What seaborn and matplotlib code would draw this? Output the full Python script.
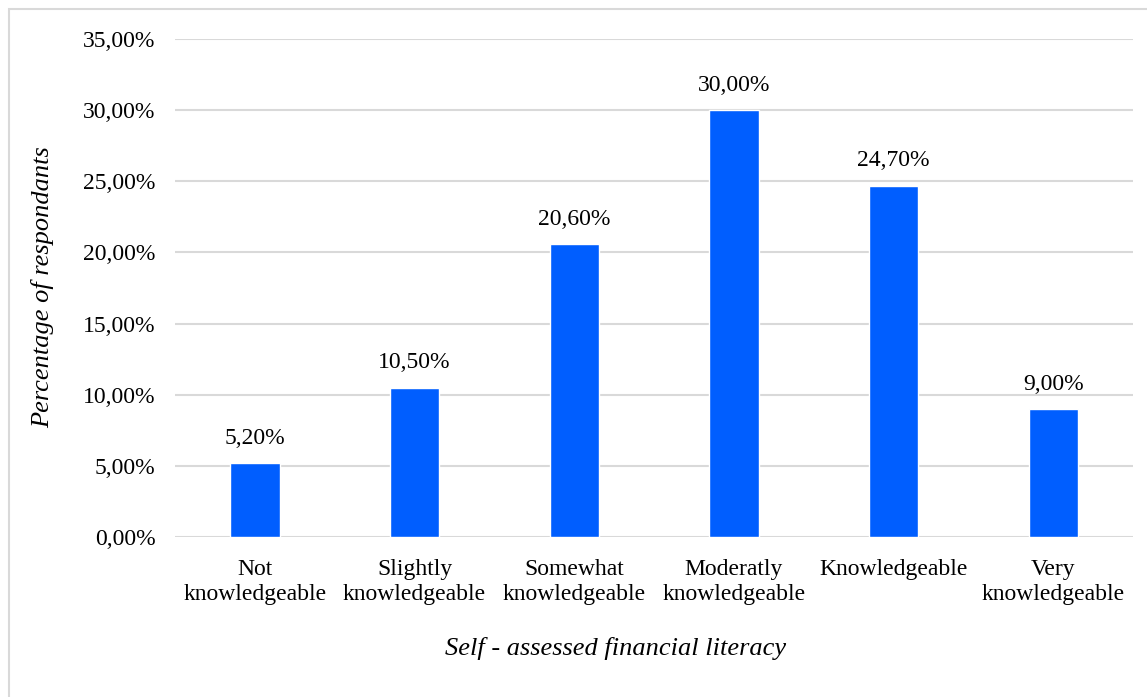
import matplotlib.pyplot as plt
import matplotlib.patches as mpatches
import seaborn as sns
import pandas as pd

categories = ["Not\nknowledgeable", "Slightly\nknowledgeable", "Somewhat\nknowledgeable",
              "Moderatly\nknowledgeable", "Knowledgeable", "Very\nknowledgeable"]
percentages = [5.2, 10.5, 20.6, 30.0, 24.7, 9.0]
y_ticks = [0, 5, 10, 15, 20, 25, 30, 35]

df = pd.DataFrame({"category": categories, "pct": percentages})

sns.set_style("white")
plt.rcParams["font.family"] = ["Liberation Serif", "DejaVu Serif"]
plt.rcParams["text.color"] = "black"
plt.rcParams["xtick.color"] = "black"
plt.rcParams["ytick.color"] = "black"

fig = plt.figure(figsize=(11.47, 6.97), dpi=100)
ax = fig.add_axes([0.1526, 0.2296, 0.8354, 0.7144])

sns.barplot(data=df, x="category", y="pct", color="#005EFF", saturation=1,
            width=0.31, ax=ax, zorder=3)

ax.set_ylim(0, 35)
ax.set_yticks(y_ticks)
ax.set_yticklabels([f"{t:.2f}%".replace(".", ",") for t in y_ticks], fontsize=17)
ax.tick_params(axis="x", labelsize=17, length=0, pad=16)
ax.tick_params(axis="y", length=0, pad=14)
for lbl in ax.get_xticklabels():
    lbl.set_linespacing(1.25)
ax.grid(axis="y", color="#D9D9D9", linewidth=1.5, zorder=0)
for s in ax.spines.values():
    s.set_visible(False)

for i, v in enumerate(percentages):
    ax.text(i, v + 1.0, f"{v:.2f}%".replace(".", ","), ha="center", va="bottom", fontsize=17)

ax.set_xlabel("")
ax.set_ylabel("")
fig.text(0.037, 0.588, "Percentage of respondants", rotation=90, ha="center", va="center",
         fontsize=19, style="italic")
fig.text(0.537, 0.07, "Self - assessed financial literacy", ha="center", va="center",
         fontsize=19, style="italic")

fig.patches.append(mpatches.Rectangle((9 / 1147, -0.1), 1.2, 1 - 9 / 697 + 0.1,
                                      transform=fig.transFigure, fill=False,
                                      edgecolor="#D9D9D9", linewidth=1.5))

fig.savefig("out.png", dpi=100)
